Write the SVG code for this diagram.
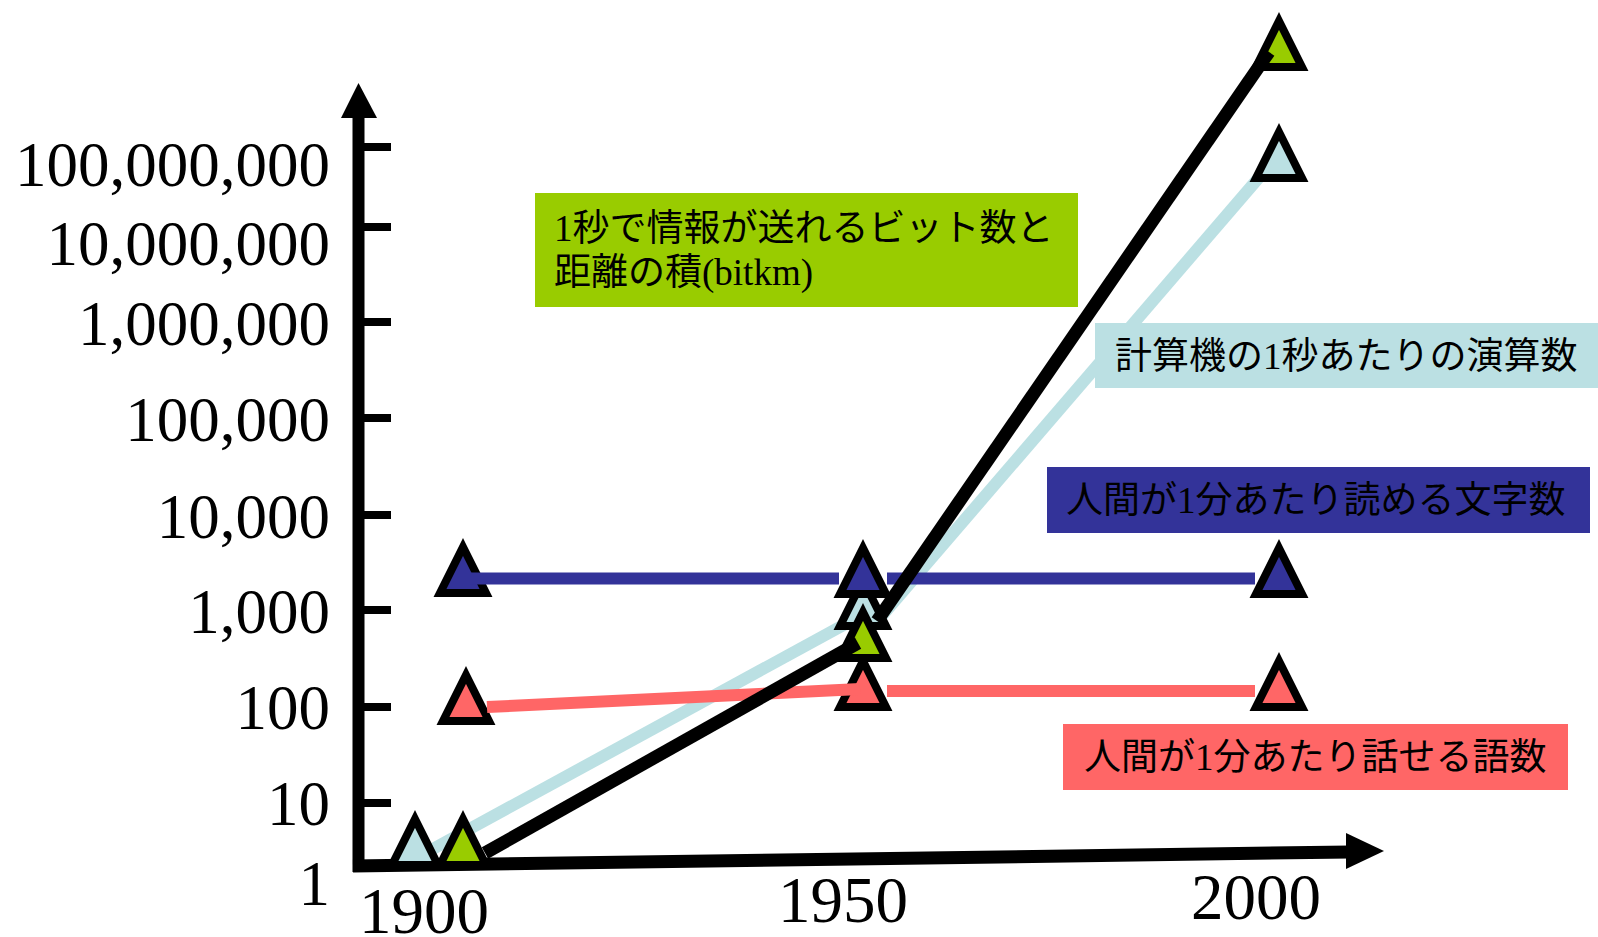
<svg xmlns="http://www.w3.org/2000/svg" xmlns:xlink="http://www.w3.org/1999/xlink" width="1598" height="937" viewBox="0 0 1598 937">
<style>
.num{font-family:"Liberation Serif","Times New Roman",serif;font-size:63px;fill:#000}
.yl{text-anchor:end}
.xl{font-size:65px}
.lab{font-family:"Liberation Serif","Noto Sans CJK JP",sans-serif;font-size:37px;fill:#000}
.tri{stroke:#000;stroke-width:8;stroke-linejoin:miter}
.ax{stroke:#000;stroke-width:12;fill:none}
.tick{stroke:#000;stroke-width:8}
.ln{fill:none;stroke-linecap:butt}
</style>
<defs>
<path id="tri" d="M0,-50 L23,-4 L-23,-4 Z"/>
</defs>
<rect width="1598" height="937" fill="#fff"/>

<g id="axes">
<line class="ax" x1="358.5" y1="872" x2="358.5" y2="114"/>
<polygon points="341,118 358.5,83 377,118" fill="#000"/>
<line x1="353" y1="866" x2="1350" y2="852" stroke="#000" stroke-width="13"/>
<polygon points="1346,833 1384,851 1346,869" fill="#000"/>
<g id="ticks">
<line class="tick" x1="364" y1="147" x2="391" y2="147"/>
<line class="tick" x1="364" y1="227" x2="391" y2="227"/>
<line class="tick" x1="364" y1="322" x2="391" y2="322"/>
<line class="tick" x1="364" y1="418" x2="391" y2="418"/>
<line class="tick" x1="364" y1="515" x2="391" y2="515"/>
<line class="tick" x1="364" y1="610" x2="391" y2="610"/>
<line class="tick" x1="364" y1="707" x2="391" y2="707"/>
<line class="tick" x1="364" y1="803" x2="391" y2="803"/>
</g>
<g id="y-labels">
<text class="num yl" x="330" y="186">100,000,000</text>
<text class="num yl" x="330" y="265">10,000,000</text>
<text class="num yl" x="330" y="345">1,000,000</text>
<text class="num yl" x="330" y="441">100,000</text>
<text class="num yl" x="330" y="538">10,000</text>
<text class="num yl" x="330" y="633">1,000</text>
<text class="num yl" x="330" y="729">100</text>
<text class="num yl" x="330" y="825">10</text>
<text class="num yl" x="330" y="905">1</text>
</g>
<g id="x-labels">
<text class="num xl" x="359" y="933">1900</text>
<text class="num xl" x="778" y="922">1950</text>
<text class="num xl" x="1191" y="919">2000</text>
</g>
</g>

<g id="connectors-under">
<polyline class="ln" points="420,856 850,621.5" stroke="#BBE0E3" stroke-width="12"/>
<polyline class="ln" points="880,618 1262,174" stroke="#BBE0E3" stroke-width="12"/>
</g>

<g id="node-computer-1900"><use xlink:href="#tri" class="tri" x="415" y="869" fill="#BBE0E3"/></g>
<g id="node-computer-1950"><use xlink:href="#tri" class="tri" x="863" y="630" fill="#BBE0E3"/></g>
<g id="node-computer-2000"><use xlink:href="#tri" class="tri" x="1279" y="182" fill="#BBE0E3"/></g>
<g id="node-speak-1900"><use xlink:href="#tri" class="tri" x="466" y="725" fill="#FF6666"/></g>
<g id="node-speak-1950"><use xlink:href="#tri" class="tri" x="863" y="711" fill="#FF6666"/></g>
<g id="node-speak-2000"><use xlink:href="#tri" class="tri" x="1279" y="711" fill="#FF6666"/></g>
<g id="node-bitkm-1900"><use xlink:href="#tri" class="tri" x="463" y="869" fill="#99CC00"/></g>
<g id="node-bitkm-1950"><use xlink:href="#tri" class="tri" x="863" y="662" fill="#99CC00"/></g>
<g id="node-bitkm-2000"><use xlink:href="#tri" class="tri" x="1279" y="71" fill="#99CC00"/></g>
<g id="node-read-1900"><use xlink:href="#tri" class="tri" x="463" y="597" fill="#333399"/></g>
<g id="node-read-1950"><use xlink:href="#tri" class="tri" x="863" y="598" fill="#333399"/></g>
<g id="node-read-2000"><use xlink:href="#tri" class="tri" x="1279" y="598" fill="#333399"/></g>

<g id="connectors">
<line class="ln" x1="470" y1="578.5" x2="839" y2="578.5" stroke="#333399" stroke-width="12"/>
<line class="ln" x1="887" y1="578.5" x2="1255" y2="578.5" stroke="#333399" stroke-width="12"/>
<line class="ln" x1="487" y1="707" x2="860" y2="689" stroke="#FF6666" stroke-width="12"/>
<line class="ln" x1="887" y1="691" x2="1255" y2="691" stroke="#FF6666" stroke-width="12"/>
<line class="ln" x1="485" y1="853" x2="858" y2="643" stroke="#000" stroke-width="13"/>
<line class="ln" x1="877" y1="621" x2="1269" y2="52" stroke="#000" stroke-width="13"/>
</g>

<g id="label-bitkm">
<rect x="535" y="193" width="543" height="114" fill="#99CC00"/>
<text class="lab" x="554" y="241">1秒で情報が送れるビット数と</text>
<text class="lab" x="554" y="285">距離の積(bitkm)</text>
</g>
<g id="label-computer">
<rect x="1095" y="323" width="503" height="65" fill="#BBE0E3"/>
<text class="lab" x="1115" y="369">計算機の1秒あたりの演算数</text>
</g>
<g id="label-read">
<rect x="1047" y="467" width="543" height="66" fill="#333399"/>
<text class="lab" x="1066" y="513">人間が1分あたり読める文字数</text>
</g>
<g id="label-speak">
<rect x="1063" y="724" width="505" height="66" fill="#FF6666"/>
<text class="lab" x="1084" y="770">人間が1分あたり話せる語数</text>
</g>
</svg>
